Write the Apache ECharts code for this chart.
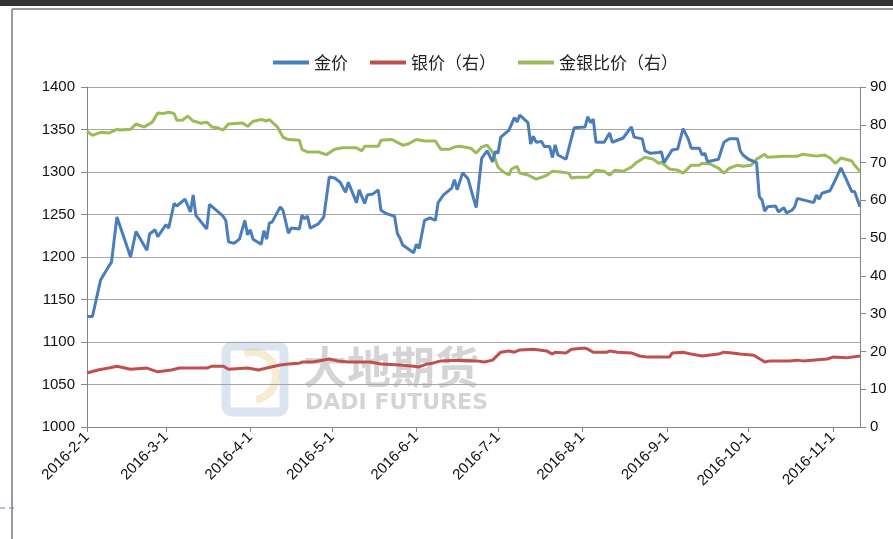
<!DOCTYPE html>
<html>
<head>
<meta charset="utf-8">
<script src="https://cdn.jsdelivr.net/npm/echarts@6/dist/echarts.min.js"></script>
<style>
  html, body { margin: 0; padding: 0; background: #fff; }
  #main { width: 893px; height: 539px; }
</style>
</head>
<body>
<div id="main"></div>
<script>
// 金价
var goldDates = [
  "2016-2-1","2016-2-3","2016-2-6","2016-2-9","2016-2-10","2016-2-12","2016-2-17","2016-2-19","2016-2-23","2016-2-24","2016-2-26","2016-2-27",
  "2016-3-1","2016-3-2","2016-3-4","2016-3-5","2016-3-8","2016-3-10","2016-3-11","2016-3-12","2016-3-16","2016-3-17","2016-3-22","2016-3-23","2016-3-24","2016-3-26","2016-3-28","2016-3-30","2016-3-31",
  "2016-4-1","2016-4-2","2016-4-5","2016-4-6","2016-4-7","2016-4-8","2016-4-9","2016-4-12","2016-4-13","2016-4-15","2016-4-16","2016-4-19","2016-4-20","2016-4-21","2016-4-22","2016-4-23","2016-4-26","2016-4-28","2016-4-30",
  "2016-5-2","2016-5-4","2016-5-6","2016-5-7","2016-5-10","2016-5-11","2016-5-13","2016-5-14","2016-5-16","2016-5-18","2016-5-19","2016-5-21","2016-5-24","2016-5-25","2016-5-26","2016-5-27","2016-5-31",
  "2016-6-1","2016-6-2","2016-6-4","2016-6-6","2016-6-8","2016-6-9","2016-6-11","2016-6-14","2016-6-15","2016-6-16","2016-6-18","2016-6-20","2016-6-22","2016-6-23","2016-6-25","2016-6-27","2016-6-29","2016-6-30",
  "2016-7-1","2016-7-2","2016-7-5","2016-7-7","2016-7-8","2016-7-9","2016-7-12","2016-7-13","2016-7-14","2016-7-15","2016-7-17","2016-7-18","2016-7-20","2016-7-21","2016-7-22","2016-7-23","2016-7-26","2016-7-28","2016-7-29",
  "2016-8-2","2016-8-3","2016-8-4","2016-8-5","2016-8-6","2016-8-9","2016-8-11","2016-8-12","2016-8-16","2016-8-19","2016-8-20","2016-8-23","2016-8-24","2016-8-26","2016-8-29","2016-8-30","2016-8-31",
  "2016-9-3","2016-9-5","2016-9-7","2016-9-9","2016-9-10","2016-9-13","2016-9-14","2016-9-15","2016-9-16","2016-9-20","2016-9-22","2016-9-24","2016-9-27","2016-9-28","2016-9-29",
  "2016-10-1","2016-10-4","2016-10-5","2016-10-6","2016-10-7","2016-10-8","2016-10-11","2016-10-12","2016-10-14","2016-10-15","2016-10-17","2016-10-18","2016-10-19","2016-10-25","2016-10-26","2016-10-27","2016-10-28","2016-10-31",
  "2016-11-2","2016-11-4","2016-11-6","2016-11-8","2016-11-9","2016-11-11"
];
var goldValues = [
  1130,1130,1173,1189,1194,1247,1200,1230,1208,1227,1232,1224,
  1238,1234,1263,1260,1268,1253,1273,1249,1233,1262,1248,1243,1218,1216,1221,1243,1226,
  1232,1221,1215,1231,1221,1240,1241,1259,1255,1228,1234,1233,1249,1245,1248,1234,1239,1247,1294,
  1293,1288,1276,1288,1264,1279,1263,1273,1274,1279,1255,1251,1248,1228,1222,1214,1205,
  1215,1210,1243,1246,1243,1264,1273,1281,1291,1279,1299,1292,1269,1258,1316,1325,1312,1324,
  1322,1341,1349,1364,1359,1367,1358,1333,1342,1335,1336,1330,1330,1317,1332,1320,1315,1340,1352,
  1353,1365,1358,1362,1335,1335,1346,1335,1340,1353,1341,1339,1325,1322,1323,1324,1311,
  1326,1327,1351,1338,1328,1328,1320,1322,1312,1315,1335,1339,1339,1325,1320,
  1315,1311,1271,1267,1254,1259,1260,1253,1258,1252,1255,1259,1269,1264,1273,1268,1275,1278,
  1291,1305,1291,1277,1277,1259
];

// 银价（右）
var silverDates = [
  "2016-2-1","2016-2-5","2016-2-9","2016-2-12","2016-2-17","2016-2-23","2016-2-27",
  "2016-3-3","2016-3-6","2016-3-11","2016-3-16","2016-3-18","2016-3-22","2016-3-24","2016-3-31",
  "2016-4-4","2016-4-7","2016-4-12","2016-4-15","2016-4-19","2016-4-20","2016-4-24","2016-4-30",
  "2016-5-3","2016-5-7","2016-5-15","2016-5-19","2016-5-26","2016-5-31",
  "2016-6-2","2016-6-5","2016-6-7","2016-6-10","2016-6-16","2016-6-23","2016-6-26","2016-6-29",
  "2016-7-2","2016-7-5","2016-7-7","2016-7-9","2016-7-14","2016-7-19","2016-7-21","2016-7-22","2016-7-26","2016-7-28",
  "2016-8-2","2016-8-3","2016-8-5","2016-8-10","2016-8-11","2016-8-14","2016-8-19","2016-8-22","2016-8-25",
  "2016-9-2","2016-9-3","2016-9-7","2016-9-10","2016-9-14","2016-9-20","2016-9-22","2016-9-25","2016-9-28",
  "2016-10-3","2016-10-7","2016-10-9","2016-10-16","2016-10-19","2016-10-21","2016-10-30",
  "2016-11-1","2016-11-6","2016-11-11"
];
var silverValues = [
  14.3,15.1,15.6,16.1,15.3,15.6,14.6,
  15.1,15.6,15.6,15.6,16.1,16.1,15.3,15.6,
  15.1,15.6,16.4,16.7,16.9,17.2,17.2,18.0,
  17.5,17.2,17.2,16.7,16.4,16.1,
  15.9,16.7,16.9,17.5,17.7,17.5,17.2,17.7,
  19.8,20.1,19.8,20.4,20.6,20.1,19.3,19.8,19.6,20.6,
  20.9,20.6,19.8,19.8,20.1,19.8,19.6,18.8,18.5,
  18.5,19.6,19.8,19.3,18.8,19.3,19.8,19.6,19.3,
  19.0,17.2,17.5,17.5,17.7,17.5,18.0,
  18.5,18.3,18.8
];

// 金银比价（右）
var ratioDates = [
  "2016-2-1","2016-2-3","2016-2-6","2016-2-9","2016-2-12","2016-2-13","2016-2-17","2016-2-19","2016-2-22","2016-2-25","2016-2-27","2016-2-29",
  "2016-3-2","2016-3-4","2016-3-5","2016-3-7","2016-3-9","2016-3-11","2016-3-14","2016-3-16","2016-3-18","2016-3-20","2016-3-22","2016-3-24","2016-3-29","2016-3-31",
  "2016-4-2","2016-4-5","2016-4-7","2016-4-8","2016-4-11","2016-4-13","2016-4-15","2016-4-19","2016-4-20","2016-4-22","2016-4-26","2016-4-29",
  "2016-5-2","2016-5-5","2016-5-10","2016-5-12","2016-5-13","2016-5-18","2016-5-19","2016-5-23","2016-5-27","2016-5-29",
  "2016-6-1","2016-6-4","2016-6-8","2016-6-10","2016-6-13","2016-6-15","2016-6-17","2016-6-21","2016-6-23","2016-6-25","2016-6-27","2016-6-29",
  "2016-7-1","2016-7-3","2016-7-5","2016-7-6","2016-7-8","2016-7-9","2016-7-12","2016-7-15","2016-7-17","2016-7-19","2016-7-21","2016-7-24","2016-7-27","2016-7-28","2016-7-30",
  "2016-8-3","2016-8-6","2016-8-9","2016-8-11","2016-8-13","2016-8-16","2016-8-19","2016-8-21","2016-8-24","2016-8-27","2016-8-29","2016-8-30",
  "2016-9-2","2016-9-5","2016-9-7","2016-9-10","2016-9-13","2016-9-14","2016-9-17","2016-9-20","2016-9-22","2016-9-24","2016-9-27","2016-9-29",
  "2016-10-2","2016-10-4","2016-10-7","2016-10-8","2016-10-14","2016-10-19","2016-10-21","2016-10-26","2016-10-29","2016-10-31",
  "2016-11-2","2016-11-4","2016-11-8","2016-11-9","2016-11-11"
];
var ratioValues = [
  78.3,77.2,78.0,77.8,78.8,78.6,78.8,80.2,79.4,80.7,83.1,83.0,
  83.3,83.0,81.2,81.2,82.3,81.0,80.4,80.7,79.4,79.2,78.6,80.2,80.5,79.6,
  80.9,81.4,81.0,81.4,79.4,76.7,76.1,75.9,73.5,72.8,72.8,72.1,
  73.5,73.9,73.9,73.1,74.3,74.3,75.9,76.1,74.6,74.9,
  76.1,75.7,75.7,73.5,73.5,74.1,74.3,73.8,72.5,74.1,74.6,72.8,
  68.8,67.5,66.7,68.3,69.0,67.2,66.7,65.6,66.1,66.7,67.7,67.5,67.2,65.9,66.1,
  66.1,68.0,67.7,66.7,68.0,67.7,68.8,70.1,71.4,70.9,69.8,70.1,
  68.3,68.0,67.2,69.3,69.3,69.8,69.6,68.5,67.2,68.5,69.3,69.0,
  69.3,70.9,72.2,71.4,71.7,71.7,72.2,71.7,72.0,71.2,
  69.8,71.2,70.4,69.3,67.7
];

var leftTicks = { min: 1000, max: 1400, interval: 50 };
var rightTicks = { min: 0, max: 90, interval: 10 };

// 日期轴：逐日
var days = [];
var start = Date.UTC(2016, 1, 1), end = Date.UTC(2016, 10, 11);
for (var t = start; t <= end; t += 86400000) {
  var d = new Date(t);
  days.push(d.getUTCFullYear() + "-" + (d.getUTCMonth() + 1) + "-" + d.getUTCDate());
}
function pairs(ds, vs) {
  return ds.map(function (x, i) { return [x, vs[i]]; });
}
function isMonthStart(idx, val) {
  return /-1$/.test(val);
}

var chart = echarts.init(document.getElementById("main"));
var axisGray = "#868686";
var gridGray = "#a6a6a6";
var font = "'Liberation Sans', Arial, sans-serif";

var option = {
  backgroundColor: "#fff",
  animation: false,
  textStyle: { fontFamily: font },
  graphic: [
    { type: "rect", shape: { x: 0, y: 0, width: 893, height: 6 }, style: { fill: "#333" }, silent: true },
    { type: "line", shape: { x1: 12, y1: 9, x2: 893, y2: 9 }, style: { stroke: "#9a9a9a", lineWidth: 2 }, silent: true },
    { type: "line", shape: { x1: 12, y1: 9, x2: 12, y2: 539 }, style: { stroke: "#9a9a9a", lineWidth: 2 }, silent: true },
    { type: "line", shape: { x1: 0, y1: 508, x2: 18, y2: 508 }, style: { stroke: "#6a8ab0", lineWidth: 1, lineDash: [5, 4] }, silent: true },
    // 水印
    { type: "rect", z: 0, shape: { x: 226, y: 346, width: 58, height: 66, r: 6 }, style: { fill: "none", stroke: "rgba(150,180,215,0.35)", lineWidth: 9 }, silent: true },
    { type: "arc", z: 0, shape: { cx: 252, cy: 376, r: 24, startAngle: -1.9, endAngle: 1.4 }, style: { fill: "none", stroke: "rgba(230,200,130,0.35)", lineWidth: 8 }, silent: true },
    { type: "text", z: 0, style: { x: 303, y: 345, text: "大地期货", fill: "rgba(120,120,120,0.32)", font: "bold 44px 'Noto Sans CJK SC'" }, silent: true },
    { type: "text", z: 0, style: { x: 305, y: 392, text: "DADI FUTURES", fill: "rgba(120,120,120,0.32)", font: "bold 22px 'DejaVu Sans'" }, silent: true }
  ],
  legend: {
    top: 49,
    left: 268,
    icon: "rect",
    itemWidth: 36,
    itemHeight: 4,
    itemGap: 22,
    textStyle: { fontSize: 17, color: "#222", fontFamily: "'Noto Sans CJK SC'" },
    data: ["金价", "银价（右）", "金银比价（右）"]
  },
  grid: { left: 87, right: 33, top: 87, bottom: 112 },
  xAxis: {
    type: "category",
    boundaryGap: false,
    data: days,
    axisLine: { lineStyle: { color: axisGray } },
    axisTick: { interval: isMonthStart, length: 5, lineStyle: { color: axisGray } },
    axisLabel: { interval: isMonthStart, rotate: 45, fontSize: 15, color: "#111", margin: 8 },
    splitLine: { show: false }
  },
  yAxis: [
    {
      type: "value",
      min: leftTicks.min, max: leftTicks.max, interval: leftTicks.interval,
      axisLine: { show: true, lineStyle: { color: axisGray } },
      axisTick: { show: true, length: 6, lineStyle: { color: axisGray } },
      axisLabel: { fontSize: 15, color: "#111", margin: 12, formatter: function (v) { return String(v); } },
      splitLine: { lineStyle: { color: gridGray } }
    },
    {
      type: "value",
      min: rightTicks.min, max: rightTicks.max, interval: rightTicks.interval,
      axisLine: { show: true, lineStyle: { color: axisGray } },
      axisTick: { show: true, length: 6, lineStyle: { color: axisGray } },
      axisLabel: { fontSize: 15, color: "#111", margin: 10 },
      splitLine: { show: false }
    }
  ],
  series: [
    {
      name: "金价", type: "line", yAxisIndex: 0, showSymbol: false,
      lineStyle: { width: 3, color: "#4a7ebb" }, itemStyle: { color: "#4a7ebb" },
      data: pairs(goldDates, goldValues), z: 4
    },
    {
      name: "银价（右）", type: "line", yAxisIndex: 1, showSymbol: false,
      lineStyle: { width: 3, color: "#c0504d" }, itemStyle: { color: "#c0504d" },
      data: pairs(silverDates, silverValues), z: 3
    },
    {
      name: "金银比价（右）", type: "line", yAxisIndex: 1, showSymbol: false,
      lineStyle: { width: 3, color: "#9bbb59" }, itemStyle: { color: "#9bbb59" },
      data: pairs(ratioDates, ratioValues), z: 3
    }
  ]
};
chart.setOption(option);
</script>
</body>
</html>
